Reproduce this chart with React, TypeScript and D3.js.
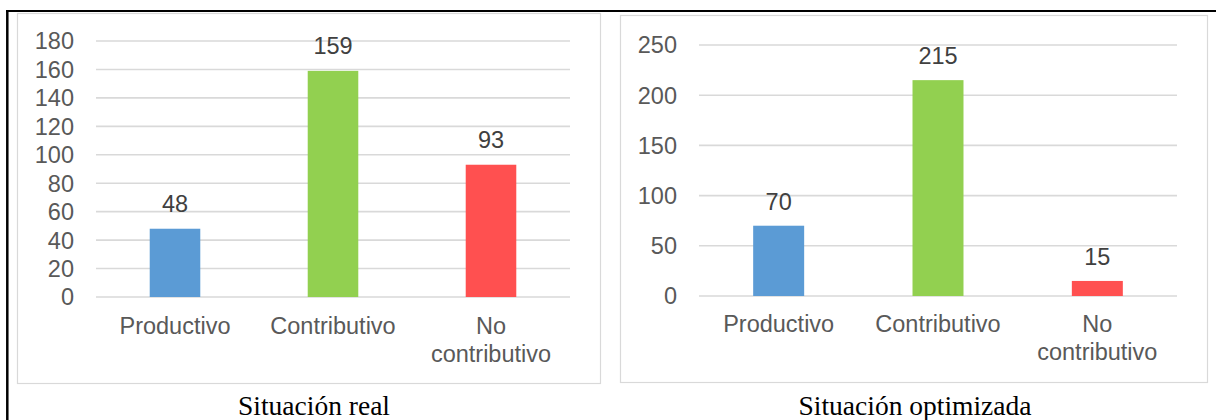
import React from "react";
import * as d3 from "d3";

const categories = ["Productivo", "Contributivo", "No contributivo"];
const realValues = [48, 159, 93];
const optimizedValues = [70, 215, 15];
const realTicks = [0, 20, 40, 60, 80, 100, 120, 140, 160, 180];
const optimizedTicks = [0, 50, 100, 150, 200, 250];
const titles = ["Situación real", "Situación optimizada"];

const BAR_COLORS = ["#5B9BD5", "#92D050", "#FF5050"];
const SANS = "'Liberation Sans', Arial, sans-serif";
const SERIF = "'Liberation Serif', 'Times New Roman', serif";

type Layout = {
  box: { x: number; y: number; w: number; h: number };
  x0: number;
  x1: number;
  yZero: number;
  yMax: number;
  tickRight: number;
  labelBaseline: number;
  valueOffset: number;
  titleX: number;
};

function wrap(label: string): string[] {
  return label.length > 12 ? label.split(" ") : [label];
}

function BarPanel({ values, ticks, layout, title }: { values: number[]; ticks: number[]; layout: Layout; title: string }) {
  const maxV = ticks[ticks.length - 1];
  const y = d3.scaleLinear().domain([0, maxV]).range([layout.yZero, layout.yMax]);
  const x = d3
    .scaleBand<string>()
    .domain(categories)
    .range([layout.x0, layout.x1])
    .paddingInner(0.68)
    .paddingOuter(0.34);
  const fs = 23.5;
  return (
    <g>
      <rect
        x={layout.box.x + 0.5}
        y={layout.box.y + 0.5}
        width={layout.box.w}
        height={layout.box.h}
        fill="#fff"
        stroke="#d9d9d9"
        strokeWidth={1.2}
      />
      {ticks.map((t) => (
        <g key={t}>
          <line x1={layout.x0} x2={layout.x1} y1={y(t)} y2={y(t)} stroke="#d9d9d9" strokeWidth={1.6} />
          <text
            x={layout.tickRight}
            y={y(t)}
            dy="0.36em"
            textAnchor="end"
            fontFamily={SANS}
            fontSize={fs}
            fill="#595959"
          >
            {t}
          </text>
        </g>
      ))}
      {categories.map((c, i) => {
        const bx = x(c)!;
        const bw = x.bandwidth();
        const top = y(values[i]);
        return (
          <g key={c}>
            <rect x={bx} y={top} width={bw} height={layout.yZero - top} fill={BAR_COLORS[i]} />
            <text
              x={bx + bw / 2}
              y={top - layout.valueOffset}
              textAnchor="middle"
              fontFamily={SANS}
              fontSize={fs}
              fill="#404040"
            >
              {values[i]}
            </text>
            {wrap(c).map((line, li) => (
              <text
                key={li}
                x={bx + bw / 2}
                y={layout.labelBaseline + li * 28}
                textAnchor="middle"
                fontFamily={SANS}
                fontSize={fs}
                fill="#595959"
              >
                {line}
              </text>
            ))}
          </g>
        );
      })}
      <text x={layout.titleX} y={415} textAnchor="middle" fontFamily={SERIF} fontSize={27.5} fill="#000">
        {title}
      </text>
    </g>
  );
}

const leftLayout: Layout = {
  box: { x: 17, y: 13, w: 583, h: 370 },
  x0: 96,
  x1: 570,
  yZero: 297,
  yMax: 41,
  tickRight: 74,
  labelBaseline: 334,
  valueOffset: 17,
  titleX: 314,
};

const rightLayout: Layout = {
  box: { x: 620, y: 15, w: 587, h: 367 },
  x0: 699,
  x1: 1177,
  yZero: 296,
  yMax: 45,
  tickRight: 677,
  labelBaseline: 332,
  valueOffset: 16,
  titleX: 915,
};

export default function App() {
  return (
    <svg
      width={1216}
      height={420}
      style={{ position: "absolute", left: 0, top: 0, display: "block", background: "#fff" }}
    >
      <rect x={0} y={0} width={1216} height={420} fill="#fff" />
      <BarPanel values={realValues} ticks={realTicks} layout={leftLayout} title={titles[0]} />
      <BarPanel values={optimizedValues} ticks={optimizedTicks} layout={rightLayout} title={titles[1]} />
      <line x1={6} x2={1216} y1={11} y2={11} stroke="#000" strokeWidth={2} />
      <line x1={7.3} x2={7.3} y1={10} y2={420} stroke="#000" strokeWidth={2.5} />
    </svg>
  );
}
